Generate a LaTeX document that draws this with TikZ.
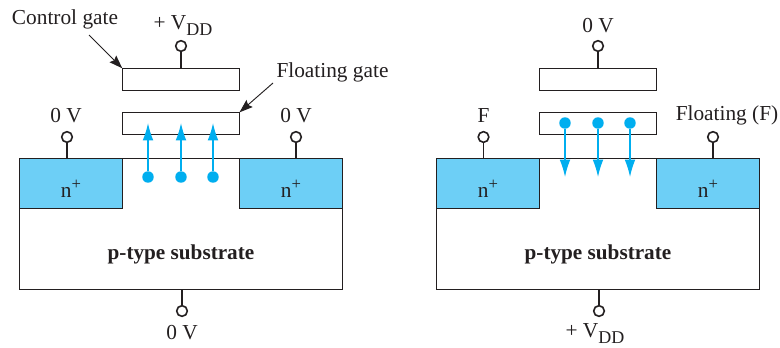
\documentclass[tikz,border=0pt]{standalone}
\usepackage{fontspec}
\setmainfont{Liberation Serif}
\usetikzlibrary{arrows.meta}
\definecolor{ink}{HTML}{231F20}
\definecolor{nfill}{HTML}{6DCFF6}
\definecolor{eblue}{HTML}{00AEEF}
\newcommand{\vdd}{+ V\raisebox{-0.28em}{\fontsize{13.5pt}{14pt}\selectfont DD}}
\newcommand{\nplus}{n\raisebox{0.38em}{\fontsize{12.5pt}{13pt}\selectfont +}}
\tikzset{
  x=0.75pt,y=-0.75pt,
  every node/.style={text=ink,font=\fontsize{16pt}{18pt}\selectfont,inner sep=0pt,outer sep=0pt},
  gatebox/.style={draw=ink,line width=0.8pt,fill=white,anchor=north west,minimum width=87.9pt,minimum height=16.5pt},
  nbox/.style={draw=ink,line width=0.8pt,fill=nfill,anchor=north west,minimum width=77.2pt,minimum height=37.8pt},
  subbox/.style={draw=ink,line width=0.8pt,fill=white,anchor=north west,minimum width=242.2pt,minimum height=98.3pt},
  term/.style={circle,draw=ink,line width=1.2pt,fill=white,minimum size=8pt},
  wire/.style={draw=ink,line width=0.8pt},
  leader/.style={draw=ink,line width=0.7pt,-{Stealth[length=10pt,width=7pt,inset=1.5pt]}},
  edot/.style={circle,fill=eblue,minimum size=8.6pt},
  earrow/.style={draw=eblue,line width=1pt,-{Latex[length=13pt,width=8pt]}},
  sublabel/.style={font=\fontsize{15.9pt}{18pt}\selectfont\bfseries},
}
\begin{document}
\begin{tikzpicture}
\useasboundingbox (0,0) rectangle (780,347);
% ---------- left device
\node[subbox] (lsub) at (19.5,158.3) {};
\node[nbox] (ln1) at (19.5,158.3) {};
\node[nbox] (ln2) at (239.5,158.3) {};
\node at (71,189) {\nplus};
\node at (291,189) {\nplus};
\node[gatebox] (lcg) at (122.3,68.3) {};
\node[gatebox] (lfg) at (122.3,112.3) {};
\node[sublabel] (lsubl) at (181,254) {p-type substrate};
\node[term] (ltg) at (181,46) {};
\node[term] (lts) at (67,137) {};
\node[term] (ltd) at (296,137) {};
\node[term] (ltb) at (182,311) {};
\draw[wire] (ltg.south) -- (ltg.south |- lcg.north);
\draw[wire] (lts.south) -- (lts.south |- ln1.north);
\draw[wire] (ltd.south) -- (ltd.south |- ln2.north);
\draw[wire] (ltb.north) -- (ltb.north |- lsub.south);
\node (ltgl) at (183,26) {\vdd};
\node (ltsl) at (66,116) {0 V};
\node (ltdl) at (296,116) {0 V};
\node (ltbl) at (182,333) {0 V};
\node (lcgl) at (65,19) {Control gate};
\node (lfgl) at (332.5,72) {Floating gate};
\coordinate (lcga) at (89,35);
\coordinate (lfga) at (273,83);
\draw[leader] (lcga) -- (lcg.north west);
\draw[leader] (lfga) -- (lfg.north east);
\foreach \i/\x in {1/148,2/181,3/213}{
  \node[edot] (ld\i) at (\x,177) {};
  \coordinate (lt\i) at (\x,123);
  \draw[earrow] (ld\i) -- (lt\i);
}
% ---------- right device
\node[subbox] (rsub) at (436.5,158.3) {};
\node[nbox] (rn1) at (436.5,158.3) {};
\node[nbox] (rn2) at (656.5,158.3) {};
\node at (488,189) {\nplus};
\node at (708,189) {\nplus};
\node[gatebox] (rcg) at (539.3,68.3) {};
\node[gatebox] (rfg) at (539.3,112.3) {};
\node[sublabel] (rsubl) at (598,254) {p-type substrate};
\node[term] (rtg) at (598,46) {};
\node[term] (rts) at (483.5,137) {};
\node[term] (rtd) at (713,137) {};
\node[term] (rtb) at (599,311) {};
\draw[wire] (rtg.south) -- (rtg.south |- rcg.north);
\draw[wire] (rts.south) -- (rts.south |- rn1.north);
\draw[wire] (rtd.south) -- (rtd.south |- rn2.north);
\draw[wire] (rtb.north) -- (rtb.north |- rsub.south);
\node (rtgl) at (598,26) {0 V};
\node (rtsl) at (483.5,116) {F};
\node (rtdl) at (727,115) {Floating (F)};
\node (rtbl) at (595,334) {\vdd};
\foreach \i/\x in {1/565,2/598,3/630}{
  \node[edot] (rd\i) at (\x,123) {};
  \coordinate (rt\i) at (\x,177);
  \draw[earrow] (rd\i) -- (rt\i);
}
\end{tikzpicture}
\end{document}
